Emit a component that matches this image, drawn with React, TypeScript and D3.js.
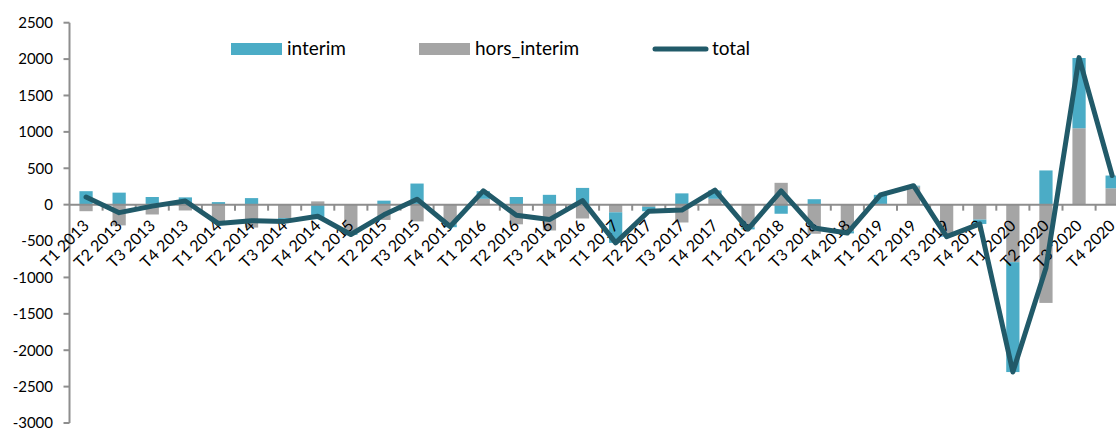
import React from "react";
import * as d3 from "d3";

const categories = [
  "T1 2013", "T2 2013", "T3 2013", "T4 2013",
  "T1 2014", "T2 2014", "T3 2014", "T4 2014",
  "T1 2015", "T2 2015", "T3 2015", "T4 2015",
  "T1 2016", "T2 2016", "T3 2016", "T4 2016",
  "T1 2017", "T2 2017", "T3 2017", "T4 2017",
  "T1 2018", "T2 2018", "T3 2018", "T4 2018",
  "T1 2019", "T2 2019", "T3 2019", "T4 2019",
  "T1 2020", "T2 2020", "T3 2020", "T4 2020",
];

const interim = [
  185, 165, 105, 100,
  35, 90, -25, -200,
  -15, 55, 290, -40,
  105, 105, 135, 230,
  -420, -60, 155, 115,
  -30, -125, 75, -30,
  125, 10, -10, -60,
  -1510, 470, 965, 175,
];

const horsInterim = [
  -90, -285, -135, -80,
  -255, -315, -185, 45,
  -400, -210, -230, -270,
  80, -270, -355, -190,
  -105, -30, -245, 80,
  -310, 300, -400, -365,
  10, 250, -430, -205,
  -790, -1350, 1050, 225,
];

const total = [
  105, -110, -20, 50,
  -260, -220, -230, -160,
  -410, -140, 75, -300,
  190, -145, -205, 55,
  -525, -90, -75, 200,
  -335, 190, -320, -390,
  135, 260, -440, -265,
  -2300, -870, 2020, 400,
];

const yTicks = [2500, 2000, 1500, 1000, 500, 0, -500, -1000, -1500, -2000, -2500, -3000];

const W = 1116;
const H = 429;
const BLUE = "#4bacc6";
const GRAY = "#a5a5a5";
const LINE = "#215a69";
const AXIS = "#8e8e8e";
const FONT = "Lato, 'Open Sans', sans-serif";

export default function App() {
  const x0 = 69.5;
  const step = 33.1;
  const x = d3
    .scaleBand<string>()
    .domain(categories)
    .range([x0, x0 + step * categories.length])
    .padding(0);
  const y = d3.scaleLinear().domain([-3000, 2500]).range([423, 22.7]);

  const rows = categories.map((c, i) => ({
    cat: c,
    hors_interim: horsInterim[i],
    interim: interim[i],
  }));
  const stack = d3
    .stack<any>()
    .keys(["hors_interim", "interim"])
    .offset(d3.stackOffsetDiverging);
  const series = stack(rows);
  const colors: Record<string, string> = { hors_interim: GRAY, interim: BLUE };

  const bw = x.bandwidth() * 0.4;
  const cx = (c: string) => (x(c) as number) + x.bandwidth() / 2;

  const line = d3
    .line<number>()
    .x((_, i) => cx(categories[i]))
    .y((d) => y(d));

  const y0 = y(0);

  return (
    <svg
      width={W}
      height={H}
      style={{ position: "absolute", left: 0, top: 0, background: "#fff" }}
      fontFamily={FONT}
    >
      <rect x={0} y={0} width={W} height={H} fill="#fff" />
      {series.map((s) => (
        <g key={s.key} fill={colors[s.key]}>
          {s.map((d, i) => (
            <rect
              key={i}
              x={cx(categories[i]) - bw / 2}
              y={y(Math.max(d[0], d[1]))}
              width={bw}
              height={Math.abs(y(d[0]) - y(d[1]))}
            />
          ))}
        </g>
      ))}
      <line x1={x0} x2={x0} y1={y(2500)} y2={y(-3000)} stroke={AXIS} strokeWidth={2} />
      {yTicks.map((t) => (
        <g key={t}>
          <line x1={x0 - 6} x2={x0} y1={y(t)} y2={y(t)} stroke={AXIS} strokeWidth={2} />
          <text x={53} y={y(t)} dy="0.36em" textAnchor="end" fontSize={15} fill="#000">
            {t}
          </text>
        </g>
      ))}
      <line x1={x0} x2={x0 + step * categories.length} y1={y0} y2={y0} stroke={AXIS} strokeWidth={2} />
      {categories.map((c, i) => (
        <line
          key={"t" + i}
          x1={(x(c) as number) + x.bandwidth()}
          x2={(x(c) as number) + x.bandwidth()}
          y1={y0}
          y2={y0 + 6}
          stroke={AXIS}
          strokeWidth={2}
        />
      ))}
      {categories.map((c) => (
        <text
          key={"l" + c}
          transform={`translate(${cx(c) + 4},${y0 + 22}) rotate(-45)`}
          textAnchor="end"
          fontSize={16}
          fill="#000"
        >
          {c}
        </text>
      ))}
      <path
        d={line(total) || ""}
        fill="none"
        stroke={LINE}
        strokeWidth={5}
        strokeLinejoin="round"
        strokeLinecap="round"
      />
      <rect x={231} y={43} width={51} height={12} fill={BLUE} />
      <text x={287} y={55} fontSize={19} fill="#000">interim</text>
      <rect x={419} y={43} width={51} height={12} fill={GRAY} />
      <text x={475} y={55} fontSize={19} fill="#000">hors_interim</text>
      <line x1={655} x2={706} y1={49} y2={49} stroke={LINE} strokeWidth={5} strokeLinecap="round" />
      <text x={712} y={55} fontSize={19} fill="#000">total</text>
    </svg>
  );
}
